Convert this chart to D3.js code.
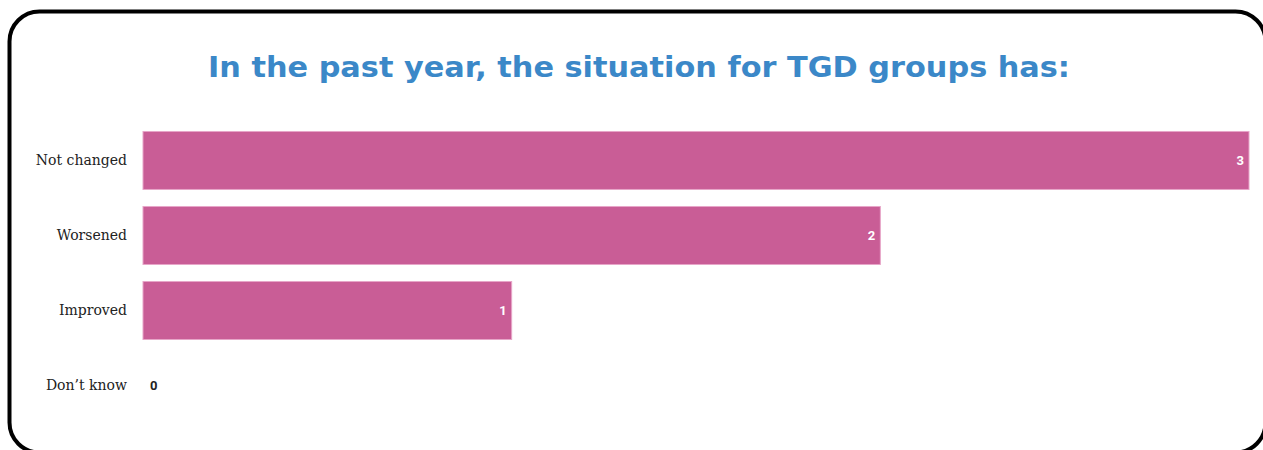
<!DOCTYPE html>
<html><head><meta charset="utf-8">
<script src="https://cdn.jsdelivr.net/npm/d3@7"></script>
<style>
html,body{margin:0;padding:0;background:#fff;overflow:hidden;}
svg{display:block;}
</style></head>
<body>
<svg id="chart" width="1263" height="450"></svg>
<script>
const categories = ["Not changed", "Worsened", "Improved", "Don\u2019t know"];
const values = [3, 2, 1, 0];
const titleText = "In the past year, the situation for TGD groups has:";

const W = 1263, H = 450;
const svg = d3.select("#chart");

// frame (extends past right and bottom edges as in the reference)
svg.append("rect")
  .attr("x", 9.5).attr("y", 11.5)
  .attr("width", 1256).attr("height", 441)
  .attr("rx", 30).attr("ry", 30)
  .attr("fill", "#fff").attr("stroke", "#000").attr("stroke-width", 4);

svg.append("text")
  .attr("x", 639).attr("y", 77)
  .attr("text-anchor", "middle")
  .attr("font-family", "'DejaVu Sans', sans-serif")
  .attr("font-weight", 700)
  .attr("font-size", 29)
  .attr("textLength", 862)
  .attr("lengthAdjust", "spacingAndGlyphs")
  .attr("fill", "#3b88c8")
  .text(titleText);

const x = d3.scaleLinear().domain([0, 3]).range([143, 1249]);
const y = d3.scaleBand().domain(categories).range([123, 423]).paddingInner(0.227).paddingOuter(0.113);

const yAxis = d3.axisLeft(y).tickSize(0).tickPadding(0);
const ga = svg.append("g").attr("transform", "translate(127,0)").call(yAxis);
ga.select(".domain").remove();
ga.selectAll("text")
  .attr("font-family", "'DejaVu Serif', 'Liberation Serif', serif")
  .attr("font-size", 14)
  .attr("fill", "#222");

svg.append("g").selectAll("rect")
  .data(categories.map((c, i) => ({c, v: values[i]})).filter(d => d.v > 0))
  .join("rect")
  .attr("x", x(0))
  .attr("y", d => y(d.c))
  .attr("width", d => x(d.v) - x(0))
  .attr("height", y.bandwidth())
  .attr("fill", "#c95d96")
  .attr("stroke", "#e7a6c8")
  .attr("stroke-width", 1);

svg.append("g").selectAll("text")
  .data(categories.map((c, i) => ({c, v: values[i]})))
  .join("text")
  .attr("x", d => d.v > 0 ? x(d.v) - 5 : x(0) + 7)
  .attr("y", d => y(d.c) + y.bandwidth() / 2)
  .attr("dy", "0.36em")
  .attr("text-anchor", d => d.v > 0 ? "end" : "start")
  .attr("font-family", "Roboto, sans-serif")
  .attr("font-weight", 700)
  .attr("font-size", 13)
  .attr("fill", d => d.v > 0 ? "#fff" : "#222")
  .text(d => d.v);
</script>
</body></html>
